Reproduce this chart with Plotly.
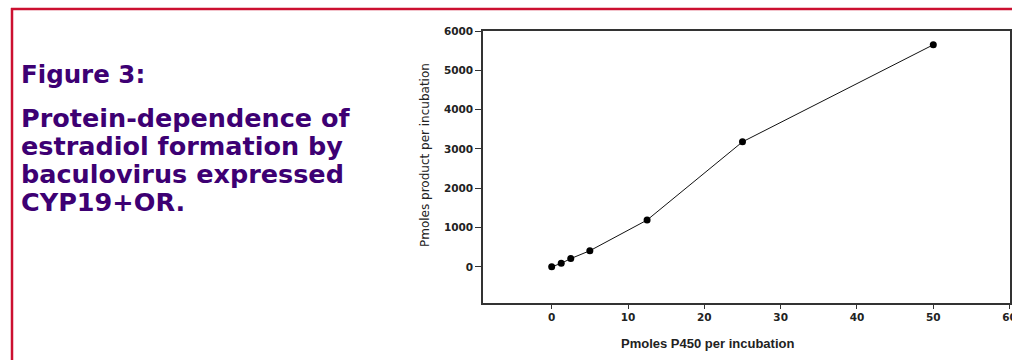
import plotly.graph_objects as go

# Data
pmoles_p450 = [0, 1.25, 2.5, 5, 12.5, 25, 50]
pmoles_product = [0, 90, 210, 410, 1190, 3180, 5650]

x_ticks = [0, 10, 20, 30, 40, 50, 60]
y_ticks = [0, 1000, 2000, 3000, 4000, 5000, 6000]

fig_label = "Figure 3:"
caption_lines = ["Protein-dependence of", "estradiol formation by",
                 "baculovirus expressed", "CYP19+OR."]
x_title = "Pmoles P450 per incubation"
y_title = "Pmoles product per incubation"

W, H = 1012, 360
L, R, T, B = 483, 2, 31, 57
PW, PH = W - L - R, H - T - B


def px(xs):
    return (xs - L) / PW


def py(ys):
    return 1 - (ys - T) / PH


fig = go.Figure()
fig.add_trace(go.Scatter(
    x=pmoles_p450, y=pmoles_product, mode="lines+markers",
    line=dict(color="#111111", width=1),
    marker=dict(color="#000000", size=7),
    showlegend=False, cliponaxis=False))

purple = "#3D0073"
annotations = [
    dict(text="<b>" + fig_label + "</b>", x=px(19), y=py(74), xref="paper", yref="paper",
         xanchor="left", yanchor="middle", showarrow=False,
         font=dict(family="DejaVu Sans", size=24.5, color=purple)),
]
for i, line in enumerate(caption_lines):
    annotations.append(dict(
        text="<b>" + line + "</b>", x=px(19), y=py(118 + 28 * i), xref="paper", yref="paper",
        xanchor="left", yanchor="middle", showarrow=False,
        font=dict(family="DejaVu Sans", size=25.5, color=purple)))

annotations += [
    dict(text="<b>" + x_title + "</b>", x=px(707), y=py(343), xref="paper", yref="paper",
         xanchor="center", yanchor="middle", showarrow=False,
         font=dict(family="Liberation Sans, Arial", size=13, color="#222222")),
    dict(text=y_title, x=px(425), y=py(155), xref="paper", yref="paper", textangle=-90,
         xanchor="center", yanchor="middle", showarrow=False,
         font=dict(family="DejaVu Sans", size=12, color="#222222")),
]

red = "#CC1030"
shapes = [
    dict(type="line", xref="paper", yref="paper", x0=px(11), x1=px(1030),
         y0=py(9), y1=py(9), line=dict(color=red, width=2.5)),
    dict(type="line", xref="paper", yref="paper", x0=px(12), x1=px(12),
         y0=py(8), y1=py(380), line=dict(color=red, width=2.5)),
]

fig.update_layout(
    width=W, height=H, margin=dict(l=L, r=R, t=T, b=B, autoexpand=False),
    paper_bgcolor="white", plot_bgcolor="white",
    annotations=annotations, shapes=shapes,
    font=dict(family="Liberation Sans, Arial", color="#222222"),
)
tick_font = dict(family="DejaVu Sans", size=10.5, color="#222222")
fig.update_xaxes(range=[-9, 60.05], tickvals=x_ticks,
                 ticktext=["<b>%d</b>" % v for v in x_ticks],
                 ticklabeloverflow="allow", automargin=False,
                 showgrid=False, zeroline=False, showline=True, mirror=True,
                 linecolor="#333333", linewidth=1.5, ticks="outside", ticklen=4,
                 tickcolor="#333333", tickfont=tick_font)
fig.update_yaxes(range=[-920, 6000], tickvals=y_ticks,
                 ticktext=["<b>%d</b>" % v for v in y_ticks],
                 automargin=False,
                 showgrid=False, zeroline=False, showline=True, mirror=True,
                 linecolor="#333333", linewidth=1.5, ticks="outside", ticklen=6,
                 tickcolor="#333333", tickfont=tick_font)

fig.write_html(
    "out.html",
    config={"displayModeBar": False},
    post_script=(
        "document.documentElement.style.overflow='hidden';"
        "document.body.style.margin='0';document.body.style.overflow='hidden';"
    ),
)
